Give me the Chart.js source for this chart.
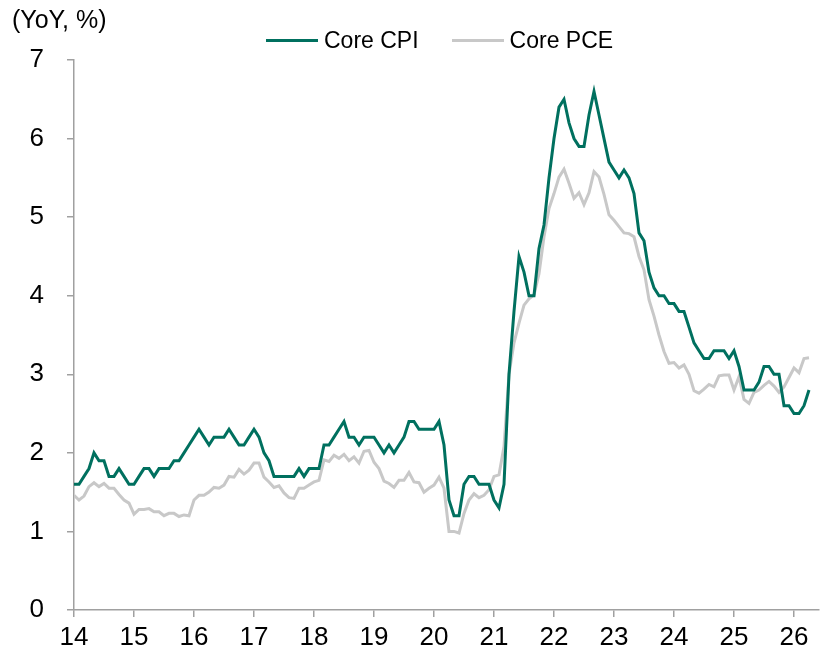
<!DOCTYPE html>
<html>
<head>
<meta charset="utf-8">
<script src="https://cdn.jsdelivr.net/npm/chart.js@4.4.1/dist/chart.umd.min.js"></script>
<style>
  html, body { margin: 0; padding: 0; background: #fff; }
  #wrap { position: relative; width: 824px; height: 650px; font-family: "Liberation Sans", Arial, sans-serif; color: #000; }
  #unit { position: absolute; left: 12px; top: 5px; font-size: 25px; line-height: 28px; }
  #legend { position: absolute; left: 266px; top: 27px; display: flex; align-items: center; font-size: 23px; line-height: 26px; }
  .item { display: flex; align-items: center; margin-right: 33px; }
  .swatch { width: 52px; height: 3px; margin-right: 6px; }
</style>
</head>
<body>
<div id="wrap">
  <canvas id="chart" width="824" height="650"></canvas>
  <div id="unit">(YoY, %)</div>
  <div id="legend"></div>
</div>
<script>
// monthly YoY %, Jan 2014 .. Apr 2026
const coreCpi = [
  1.6, 1.6, 1.7, 1.8, 2.0, 1.9, 1.9, 1.7, 1.7, 1.8, 1.7, 1.6, // 2014
  1.6, 1.7, 1.8, 1.8, 1.7, 1.8, 1.8, 1.8, 1.9, 1.9, 2.0, 2.1, // 2015
  2.2, 2.3, 2.2, 2.1, 2.2, 2.2, 2.2, 2.3, 2.2, 2.1, 2.1, 2.2, // 2016
  2.3, 2.2, 2.0, 1.9, 1.7, 1.7, 1.7, 1.7, 1.7, 1.8, 1.7, 1.8, // 2017
  1.8, 1.8, 2.1, 2.1, 2.2, 2.3, 2.4, 2.2, 2.2, 2.1, 2.2, 2.2, // 2018
  2.2, 2.1, 2.0, 2.1, 2.0, 2.1, 2.2, 2.4, 2.4, 2.3, 2.3, 2.3, // 2019
  2.3, 2.4, 2.1, 1.4, 1.2, 1.2, 1.6, 1.7, 1.7, 1.6, 1.6, 1.6, // 2020
  1.4, 1.3, 1.6, 3.0, 3.8, 4.5, 4.3, 4.0, 4.0, 4.6, 4.9, 5.5, // 2021
  6.0, 6.4, 6.5, 6.2, 6.0, 5.9, 5.9, 6.3, 6.6, 6.3, 6.0, 5.7, // 2022
  5.6, 5.5, 5.6, 5.5, 5.3, 4.8, 4.7, 4.3, 4.1, 4.0, 4.0, 3.9, // 2023
  3.9, 3.8, 3.8, 3.6, 3.4, 3.3, 3.2, 3.2, 3.3, 3.3, 3.3, 3.2, // 2024
  3.3, 3.1, 2.8, 2.8, 2.8, 2.9, 3.1, 3.1, 3.0, 3.0, 2.6, 2.6, // 2025
  2.5, 2.5, 2.6, 2.8                                          // 2026
];

const corePce = [
  1.46, 1.40, 1.45, 1.57, 1.62, 1.57, 1.61, 1.55, 1.55, 1.47, 1.40, 1.36,
  1.22, 1.28, 1.28, 1.29, 1.25, 1.25, 1.20, 1.23, 1.23, 1.19, 1.21, 1.20,
  1.40, 1.46, 1.46, 1.50, 1.56, 1.55, 1.59, 1.70, 1.69, 1.79, 1.73, 1.78,
  1.87, 1.87, 1.69, 1.63, 1.56, 1.58, 1.49, 1.43, 1.42, 1.55, 1.55, 1.59,
  1.63, 1.65, 1.91, 1.89, 1.97, 1.93, 1.98, 1.90, 1.95, 1.87, 2.02, 2.03,
  1.88, 1.80, 1.64, 1.61, 1.56, 1.65, 1.65, 1.75, 1.63, 1.62, 1.50, 1.55,
  1.59, 1.69, 1.55, 1.00, 1.00, 0.98, 1.23, 1.40, 1.48, 1.43, 1.46, 1.53,
  1.70, 1.72, 2.08, 3.00, 3.40, 3.65, 3.88, 3.96, 4.01, 4.28, 4.75, 5.11,
  5.30, 5.51, 5.61, 5.43, 5.24, 5.31, 5.16, 5.31, 5.58, 5.51, 5.29, 5.03,
  4.96, 4.88, 4.80, 4.79, 4.75, 4.50, 4.33, 3.95, 3.74, 3.50, 3.29, 3.14,
  3.15, 3.08, 3.12, 3.00, 2.79, 2.76, 2.81, 2.87, 2.84, 2.98, 2.99, 2.99,
  2.80, 2.97, 2.68, 2.63, 2.77, 2.80, 2.86, 2.91, 2.85, 2.77, 2.84, 2.96,
  3.08, 3.02, 3.20, 3.21
];

// x axis: months since Jan 2014, one tick per January
const yearTicks = [0, 12, 24, 36, 48, 60, 72, 84, 96, 108, 120, 132, 144];
const yearLabels = ["14", "15", "16", "17", "18", "19", "20", "21", "22", "23", "24", "25", "26"];

const TICK_FONT = "'Liberation Sans Narrow', 'Liberation Sans', Arial, sans-serif";
const AXIS = "#a0a0a0";

const toPoints = (arr) => arr.map((y, i) => ({ x: i, y }));

const chart = new Chart(document.getElementById("chart"), {
  type: "line",
  data: {
    datasets: [
      {
        label: "Core CPI",
        data: toPoints(coreCpi),
        borderColor: "#00705f",
        backgroundColor: "#00705f",
        borderWidth: 3,
      },
      {
        label: "Core PCE",
        data: toPoints(corePce),
        borderColor: "#c8c8c8",
        backgroundColor: "#c8c8c8",
        borderWidth: 3,
      },
    ],
  },
  options: {
    responsive: false,
    animation: false,
    layout: { padding: { top: 60, right: 5, left: 0, bottom: 0 } },
    elements: { point: { radius: 0 }, line: { tension: 0 } },
    plugins: { legend: { display: false }, tooltip: { enabled: false } },
    scales: {
      x: {
        type: "linear",
        min: 0,
        max: 149,
        afterBuildTicks: (s) => { s.ticks = yearTicks.map((v) => ({ value: v })); },
        afterFit: (s) => { s.height = 40; },
        ticks: {
          autoSkip: false,
          maxRotation: 0,
          padding: 5,
          color: "#000",
          font: { family: TICK_FONT, size: 26 },
          callback: (v, i) => yearLabels[i],
        },
        grid: { drawOnChartArea: false, tickLength: 7, color: AXIS, lineWidth: 1.5 },
        border: { color: AXIS, width: 1.5 },
      },
      y: {
        min: 0,
        max: 7,
        afterFit: (s) => { s.width = 74; },
        ticks: {
          stepSize: 1,
          padding: 23,
          color: "#000",
          font: { family: TICK_FONT, size: 26 },
        },
        grid: { drawOnChartArea: false, tickLength: 7, color: AXIS, lineWidth: 1.5 },
        border: { color: AXIS, width: 1.5 },
      },
    },
  },
});

// html legend built from the datasets
const legend = document.getElementById("legend");
chart.data.datasets.forEach((ds) => {
  const item = document.createElement("div");
  item.className = "item";
  const sw = document.createElement("span");
  sw.className = "swatch";
  sw.style.background = ds.borderColor;
  const txt = document.createElement("span");
  txt.textContent = ds.label;
  item.appendChild(sw);
  item.appendChild(txt);
  legend.appendChild(item);
});
</script>
</body>
</html>
